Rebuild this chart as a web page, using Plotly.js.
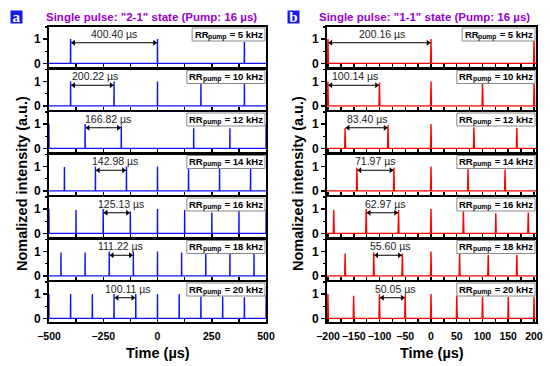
<!DOCTYPE html>
<html><head><meta charset="utf-8">
<script src="https://cdn.plot.ly/plotly-3.0.1.min.js"></script>
<style>html,body{margin:0;padding:0;background:#fff}#chart{width:550px;height:366px}</style>
</head><body><div id="chart"></div>
<script>
// ---------- data ----------
const ratesKHz = [5, 10, 12, 14, 16, 18, 20];

// Panel a: single pulse "2-1" state
const periodLabelsA = ['400.40', '200.22', '166.82', '142.98', '125.13', '111.22', '100.11'];
const timesA5  = [-400.4, 0, 400.4];
const peaksA5  = [1.0, 1.0, 0.88];
const timesA10 = [-400.4, -200.2, 0, 200.2, 400.4];
const peaksA10 = [1.0, 1.0, 1.0, 0.95, 0.95];
const timesA12 = [-500.5, -333.6, -166.8, 166.8, 333.6, 500.5];
const peaksA12 = [1.0, 1.0, 0.93, 0.83, 0.83, 1.0];
const timesA14 = [-428.9, -286.0, -143.0, 0, 143.0, 286.0, 428.9];
const peaksA14 = [0.98, 1.0, 1.0, 1.0, 0.98, 1.0, 1.0];
const timesA16 = [-500.5, -375.4, -250.3, -125.1, 0, 125.1, 250.3, 375.4, 500.5];
const peaksA16 = [1.0, 0.96, 1.0, 0.9, 1.0, 0.96, 0.86, 0.96, 1.0];
const timesA18 = [-444.9, -333.7, -222.4, -111.2, 0, 111.2, 222.4, 333.7, 444.9];
const peaksA18 = [0.96, 0.96, 1.0, 1.0, 1.0, 0.96, 0.96, 0.96, 0.93];
const timesA20 = [-500.6, -400.4, -300.3, -200.2, -100.1, 0, 100.1, 200.2, 300.3, 400.4, 500.6];
const peaksA20 = [1.0, 1.0, 1.0, 1.0, 1.0, 1.0, 1.0, 0.9, 0.9, 0.87, 1.0];
const arrowFromA = [-400.4, -400.4, -333.6, -286.0, -250.3, -222.4, -200.2];
const arrowToA   = [0, -200.2, -166.8, -143.0, -125.1, -111.2, -100.1];

// Panel b: single pulse "1-1" state
const periodLabelsB = ['200.16', '100.14', '83.40', '71.97', '62.97', '55.60', '50.05'];
const timesB5  = [-200.2, 0, 200.2];
const peaksB5  = [1.0, 1.0, 1.0];
const timesB10 = [-200.3, -100.1, 0, 100.1, 200.3];
const peaksB10 = [1.0, 0.96, 1.0, 0.96, 1.0];
const timesB12 = [-166.8, -83.4, 0, 83.4, 166.8];
const peaksB12 = [0.84, 0.96, 1.0, 0.87, 0.84];
const timesB14 = [-143.9, -72.0, 0, 72.0, 143.9];
const peaksB14 = [0.95, 0.95, 1.0, 0.92, 0.88];
const timesB16 = [-188.9, -125.9, -63.0, 0, 63.0, 125.9, 188.9];
const peaksB16 = [0.97, 1.0, 0.96, 1.0, 0.96, 0.83, 0.86];
const timesB18 = [-166.8, -111.2, -55.6, 0, 55.6, 111.2, 166.8];
const peaksB18 = [0.92, 0.96, 0.92, 1.0, 0.92, 0.87, 0.87];
const timesB20 = [-200.2, -150.2, -100.1, -50.1, 0, 50.1, 100.1, 150.2, 200.2];
const peaksB20 = [1.0, 0.93, 1.0, 0.96, 1.0, 0.93, 0.89, 0.89, 0.89];
const arrowFromB = [-200.2, -200.3, -166.8, -143.9, -125.9, -111.2, -100.1];
const arrowToB   = [0, -100.1, -83.4, -72.0, -63.0, -55.6, -50.1];

// ---------- layout helpers ----------
const timesA = [timesA5, timesA10, timesA12, timesA14, timesA16, timesA18, timesA20];
const peaksA = [peaksA5, peaksA10, peaksA12, peaksA14, peaksA16, peaksA18, peaksA20];
const timesB = [timesB5, timesB10, timesB12, timesB14, timesB16, timesB18, timesB20];
const peaksB = [peaksB5, peaksB10, peaksB12, peaksB14, peaksB16, peaksB18, peaksB20];

const W = 550, H = 366, ML = 49, MR = 14, MT = 27, MB = 44;
const PW = W - ML - MR, PH = H - MT - MB;
const px2x = p => (p - ML) / PW;
const py2y = p => 1 - (p - MT) / PH;
const rowH = 40, rowG = 2.5;
const rangeA = [-500, 500], rangeB = [-202, 204];
const domA = [px2x(49), px2x(266)], domB = [px2x(327), px2x(536)];
const labelXA = [-200, -288, -228, -198, -168, -170, -136];
const labelXB = [-96, -148, -124, -107, -89, -78, -69];
const FAM = 'Liberation Sans, Arial, sans-serif';
const BOLD = {family: FAM, weight: 'bold', color: '#000'};
const ARROW_Y = 0.85, HEAD = 5;
const RR_SIZE = 9.5, SUB_SIZE = 6.8, BOX_H = 13;

const ctx = document.createElement('canvas').getContext('2d');
function textW(s, size) { ctx.font = 'bold ' + size + 'px "Liberation Sans", Arial, sans-serif'; return ctx.measureText(s).width; }

function pulseLine(times, peaks, lo, hi, w) {
  const xs = [lo], ys = [0];
  times.forEach((t, k) => { xs.push(t - w, t, t + w); ys.push(0, peaks[k], 0); });
  xs.push(hi); ys.push(0);
  return {xs, ys};
}

const data = [], layout = {
  width: W, height: H, margin: {l: ML, r: MR, t: MT, b: MB},
  paper_bgcolor: '#fff', plot_bgcolor: '#fff', showlegend: false,
  annotations: [], shapes: []
};

function addPanel(times, peaks, labels, from, to, labelX, range, dom, color, w, dtick, minorDtick, offset) {
  const domPx = (dom[1] - dom[0]) * PW;
  const unitsPerPx = (range[1] - range[0]) / domPx;
  for (let i = 0; i < 7; i++) {
    const n = offset + i + 1;
    const xid = n === 1 ? 'x' : 'x' + n, yid = n === 1 ? 'y' : 'y' + n;
    const xk = n === 1 ? 'xaxis' : 'xaxis' + n, yk = n === 1 ? 'yaxis' : 'yaxis' + n;
    const top = MT + i * (rowH + rowG), bot = top + rowH;
    const pl = pulseLine(times[i], peaks[i], range[0] - 20, range[1] + 20, w);
    data.push({x: pl.xs, y: pl.ys, xaxis: xid, yaxis: yid, type: 'scatter', mode: 'lines',
      line: {color: color, width: 1.4}, hoverinfo: 'skip'});
    // double-headed arrow between two pulses
    const inset = (HEAD / 2 + 0.5) * unitsPerPx;
    data.push({x: [from[i] + 0.5 * unitsPerPx, to[i] - 0.5 * unitsPerPx], y: [ARROW_Y, ARROW_Y],
      xaxis: xid, yaxis: yid, type: 'scatter', mode: 'lines', line: {color: '#000', width: 1}, hoverinfo: 'skip'});
    data.push({x: [from[i] + inset, to[i] - inset], y: [ARROW_Y, ARROW_Y],
      xaxis: xid, yaxis: yid, type: 'scatter', mode: 'markers',
      marker: {symbol: ['triangle-left', 'triangle-right'], size: HEAD, color: '#000', line: {width: 0}},
      hoverinfo: 'skip'});
    layout[xk] = {domain: dom, range: range, anchor: yid, showline: true, mirror: true,
      linewidth: 2, linecolor: '#000', ticks: 'inside', ticklen: 3, tickwidth: 1.5, tickcolor: '#000',
      tick0: 0, dtick: dtick, tickangle: 0, ticklabelstandoff: 3,
      minor: {dtick: minorDtick, ticks: 'inside', ticklen: 3, tickwidth: 1.5, tickcolor: '#000'},
      showticklabels: i === 6, tickfont: Object.assign({size: 10.5}, BOLD),
      showgrid: false, zeroline: false, fixedrange: true};
    layout[yk] = {domain: [py2y(bot), py2y(top)], range: [-0.15, 1.5], anchor: xid,
      showline: true, mirror: true, linewidth: 2, linecolor: '#000',
      ticks: 'outside', ticklen: 4, tickwidth: 1.5, tickcolor: '#000', tick0: 0, dtick: 1,
      minor: {dtick: 0.5, ticks: 'outside', ticklen: 2, tickwidth: 1.2, tickcolor: '#000'},
      tickfont: Object.assign({size: 12}, BOLD), showgrid: false, zeroline: false, fixedrange: true};
    // period label
    layout.annotations.push({xref: xid, yref: yid, x: labelX[i], y: 1.22, xanchor: 'center', yanchor: 'middle',
      text: labels[i] + ' µs', showarrow: false,
      font: {family: FAM, size: 10.5, color: '#222'}});
    // RR pump label box: "RR" + subscript "pump" + " = N kHz"
    const rest = ' = ' + ratesKHz[i] + ' kHz';
    const wRR = textW('RR', RR_SIZE), wSub = textW('pump', SUB_SIZE), wRest = textW(rest, RR_SIZE);
    const boxW = 2.5 + wRR + wSub + wRest + 2.5;
    const xr = 1 - 1 / domPx, xl = xr - boxW / domPx;
    const yt = 1 - 1 / rowH, yb = yt - BOX_H / rowH, ym = (yt + yb) / 2;
    layout.shapes.push({type: 'rect', xref: xid + ' domain', yref: yid + ' domain',
      x0: xl, x1: xr, y0: yb, y1: yt, fillcolor: '#fff', line: {color: '#8a8a8a', width: 1}, layer: 'above'});
    const piece = (txt, size, shift, dy) => layout.annotations.push({
      xref: xid + ' domain', yref: yid + ' domain', x: xl, y: ym, xanchor: 'left', yanchor: 'middle',
      xshift: shift, yshift: dy, showarrow: false, text: txt, borderpad: 0, borderwidth: 0,
      font: Object.assign({size: size}, BOLD)});
    piece('RR', RR_SIZE, 2.5, 0.5);
    piece('pump', SUB_SIZE, 2.5 + wRR, -2);
    piece(rest, RR_SIZE, 2.5 + wRR + wSub, 0.5);
  }
}

addPanel(timesA, peaksA, periodLabelsA, arrowFromA, arrowToA, labelXA, rangeA, domA, '#1010ff', 0.6, 250, 125, 0);
addPanel(timesB, peaksB, periodLabelsB, arrowFromB, arrowToB, labelXB, rangeB, domB, '#ff0000', 0.9, 50, 25, 7);

// panel letters
[['a', 16.5], ['b', 293]].forEach(([t, px]) => {
  layout.annotations.push({xref: 'paper', yref: 'paper', x: px2x(px), y: py2y(16.5),
    xanchor: 'center', yanchor: 'middle', showarrow: false, text: t,
    width: 11, height: 12, bgcolor: '#1a1ae6', borderpad: 0,
    font: {family: 'Liberation Serif, Times New Roman, serif', size: 15, color: '#fff', weight: 'bold'}});
});
// panel titles
[['Single pulse: "2-1" state (Pump: 16 µs)', 151], ['Single pulse: "1-1" state (Pump: 16 µs)', 424]].forEach(([t, px]) => {
  layout.annotations.push({xref: 'paper', yref: 'paper', x: px2x(px), y: py2y(17),
    xanchor: 'center', yanchor: 'middle', showarrow: false, text: t,
    font: {family: FAM, size: 11.5, color: '#9900cc', weight: 'bold'}});
});
// axis titles
[157.5, 431.5].forEach(px => {
  layout.annotations.push({xref: 'paper', yref: 'paper', x: px2x(px), y: py2y(353),
    xanchor: 'center', yanchor: 'middle', showarrow: false, text: 'Time (µs)',
    font: Object.assign({size: 14.5}, BOLD)});
});
[22, 298].forEach(px => {
  layout.annotations.push({xref: 'paper', yref: 'paper', x: px2x(px), y: py2y(184),
    xanchor: 'center', yanchor: 'middle', showarrow: false, textangle: -90,
    text: 'Nomalized intensity (a.u.)', font: Object.assign({size: 14.5}, BOLD)});
});

Plotly.newPlot('chart', data, layout, {staticPlot: true, displayModeBar: false});
</script>
</body></html>
